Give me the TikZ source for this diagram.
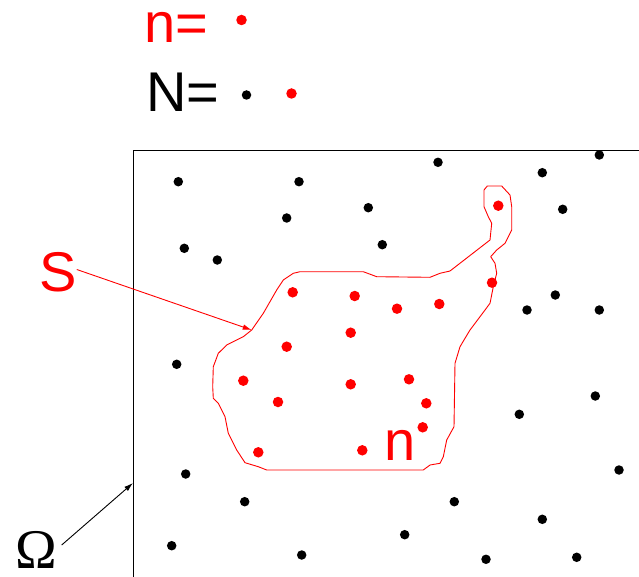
\documentclass[tikz,border=0pt]{standalone}
\usepackage{fontspec}
\setmainfont{Liberation Sans}
\newfontfamily\omegafont{Liberation Serif}
\usetikzlibrary{arrows.meta}
\definecolor{setred}{RGB}{255, 0, 0}

\begin{document}
\begin{tikzpicture}[x=1pt, y=-1pt,
    blackdot/.style={circle, fill=black, inner sep=0pt, minimum size=9.5pt},
    reddot/.style={circle, fill=setred, inner sep=0pt, minimum size=10.5pt},
    biglabel/.style={inner sep=0pt, anchor=base west, font=\fontsize{56}{60}\selectfont},
    pointer/.style={-{Latex[length=9pt, width=5.5pt]}, line width=0.9pt},
]
\useasboundingbox (0,0) rectangle (639,577);
\clip (0,0) rectangle (639,577);

% legend
\node[biglabel, text=setred] (nlegend) at (144,43) {n=};
\node[reddot]                (nsample) at (241.5,20) {};
\node[biglabel]              (Nlegend) at (146,112) {N=};
\node[blackdot]              (Nblack)  at (246.5,95) {};
\node[reddot]                (Nred)    at (291.5,93.5) {};

% domain Omega
\draw[line width=0.9pt] (133,150) rectangle (680,620);
\coordinate (omegatip) at (133,483);

% subset S
\draw[setred, line width=0.9pt, line join=round]
  (251.7,330) -- (263.3,313.3) -- (276.7,290) -- (283.3,280) -- (293.3,273.3)
  -- (300,271.7) -- (363.3,271.7) -- (376.7,276.7) -- (430,277.3) -- (440,273.3)
  -- (450,271) -- (490,240) -- (491.7,223.3) -- (488.3,216.7) -- (484,206.7)
  -- (484,190) -- (487.3,186) -- (501.7,186) -- (510,195) -- (511.7,206.7)
  -- (511.7,230) -- (505,243.3) -- (496.7,250) -- (490.7,256.7) -- (495,263.3)
  -- (496.7,273.3) -- (493.3,286.7) -- (490,303.3) -- (480,316.7) -- (470,330)
  -- (460,346.7) -- (455,363.3) -- (454,426.7) -- (446.7,440) -- (443.3,456.7)
  -- (440,463.3) -- (430,465) -- (423.3,470) -- (266.7,470) -- (258.3,466.7)
  -- (245,462.7) -- (236.7,450) -- (228.3,433.3) -- (225,416.7) -- (218.3,403.3)
  -- (213.3,398.3) -- (212.7,386.7) -- (213.3,366.7) -- (218.3,353.3) -- (226.7,345)
  -- (233.3,341.7) -- (243.3,336.7) -- cycle;
\coordinate (stip) at (251.7,330);

% points outside S
\foreach \px/\py [count=\i] in {178.3/181.7, 299/181.7, 438/162.3, 542.3/172.7,
    599.3/155, 368.3/207.7, 286.7/218, 562.7/209.3, 184.3/248.3, 217.3/260,
    382.3/244.7, 555.3/295, 527/310, 599.3/310, 176.7/364.3, 595.3/396,
    519.3/414.3, 619/470, 185.7/474, 244.7/501.7, 454.3/501.7, 542.3/519.3,
    404.7/534.7, 171.7/545.7, 301.7/555, 486/559.3, 576.7/557.3}
  \node[blackdot] (out\i) at (\px,\py) {};

% points inside S
\foreach \px/\py [count=\i] in {498.3/205.7, 492/282.7, 292.7/292.3, 354.7/296,
    397/308.7, 439.3/304, 350.7/332.7, 286.7/346.7, 243.3/380.7, 350.7/384.3,
    409/379.3, 278/402, 426.3/403.3, 422.7/427.3, 258.3/452.3, 362.3/450.3}
  \node[reddot] (in\i) at (\px,\py) {};

% labels
\node[biglabel, text=setred] (ninside) at (384,460) {n};
\node[biglabel, text=setred] (slabel)  at (39,291) {S};
\node[biglabel, font=\fontsize{56}{60}\selectfont\omegafont] (omegalabel) at (15.5,568) {Ω};

\draw[pointer, setred] (slabel.east |- 0,269.5) -- (stip);
\draw[pointer] (61.7,545) -- (omegatip);

\end{tikzpicture}
\end{document}
